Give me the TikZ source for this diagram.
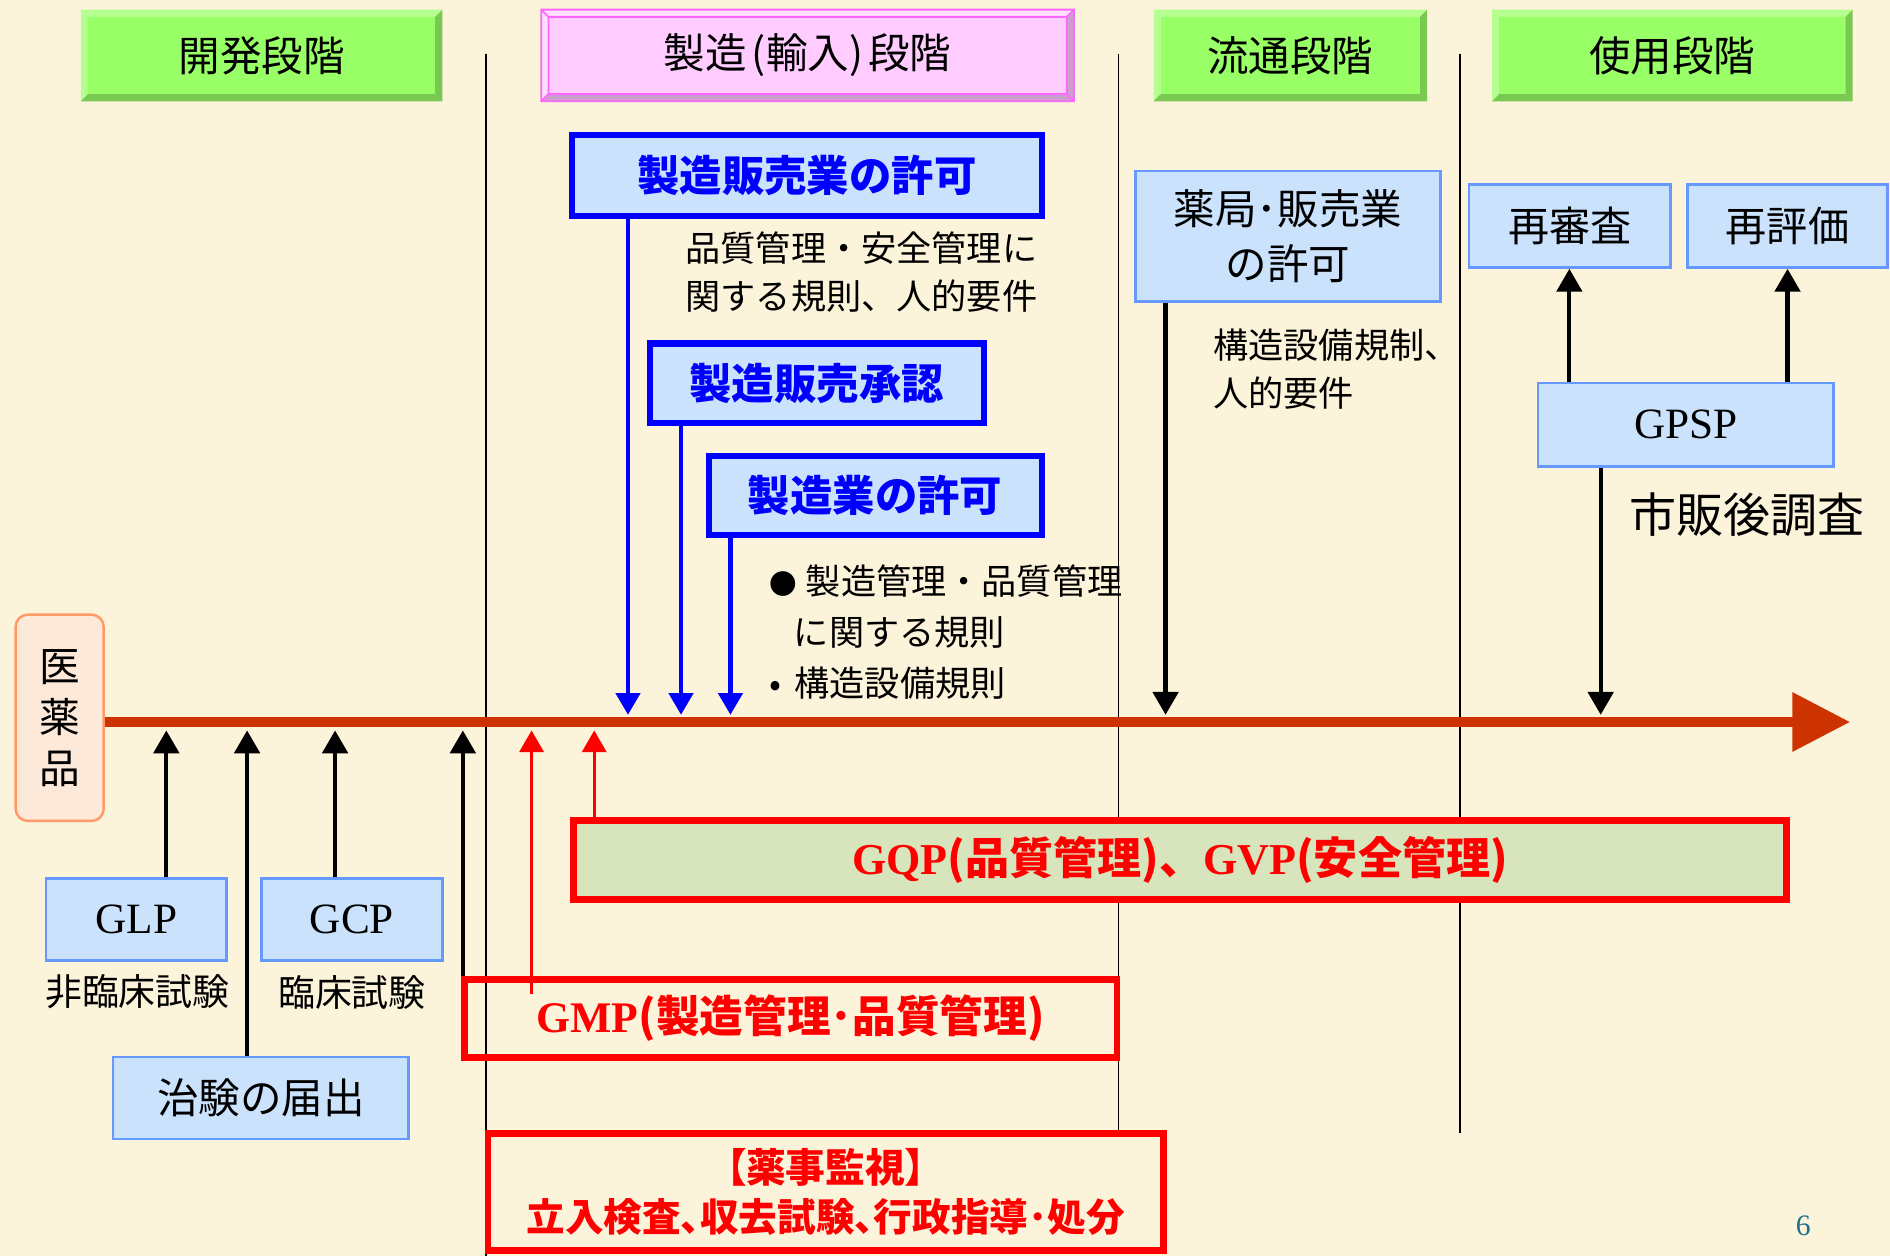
\documentclass[tikz,border=0pt]{standalone}
\usepackage{fontspec}
\setmainfont{Noto Sans CJK JP}
\newfontfamily\lsf{Liberation Serif}
\usetikzlibrary{calc,arrows.meta}
\definecolor{bgc}{RGB}{252,243,219}
\definecolor{lblue}{RGB}{202,226,252}
\definecolor{tborder}{RGB}{102,153,255}
\definecolor{blueB}{RGB}{0,0,255}
\definecolor{redR}{RGB}{255,0,0}
\definecolor{gqpfill}{RGB}{216,228,188}
\definecolor{barc}{RGB}{204,51,0}
\definecolor{medfill}{RGB}{253,233,217}
\definecolor{medline}{RGB}{255,153,102}
\definecolor{grfc}{RGB}{153,255,102}
\definecolor{grlt}{RGB}{181,255,145}
\definecolor{grdk}{RGB}{120,200,82}
\definecolor{pkfc}{RGB}{255,204,255}
\definecolor{pklt}{RGB}{255,226,255}
\definecolor{pkdk}{RGB}{204,158,204}
\definecolor{pkol}{RGB}{255,102,255}
\definecolor{pagec}{RGB}{31,110,140}
\newcommand\fz[2]{\fontsize{#1}{#2}\selectfont}
\newcommand\bevelbox[8]{%
  \fill[#6lt] (#2,#3) -- (#4,#3) -- ($(#4,#3)+(-6,6)$) -- ($(#2,#3)+(6,6)$) -- cycle;
  \fill[#6lt] (#2,#3) -- ($(#2,#3)+(6,6)$) -- ($(#2,#5)+(6,-6)$) -- (#2,#5) -- cycle;
  \fill[#6dk] (#2,#5) -- ($(#2,#5)+(6,-6)$) -- ($(#4,#5)+(-6,-6)$) -- (#4,#5) -- cycle;
  \fill[#6dk] (#4,#3) -- (#4,#5) -- ($(#4,#5)+(-6,-6)$) -- ($(#4,#3)+(-6,6)$) -- cycle;
  \fill[#6fc] ($(#2,#3)+(6,6)$) rectangle ($(#4,#5)+(-6,-6)$);
  \draw[#8] (#2,#3) rectangle (#4,#5) ($(#2,#3)+(6,6)$) rectangle ($(#4,#5)+(-6,-6)$)
     (#2,#3) -- ++(6,6) (#4,#5) -- ++(-6,-6) (#2,#5) -- ++(6,-6) (#4,#3) -- ++(-6,6);
  \node[hdr] (#1) at ($(#2,#3)!0.5!(#4,#5)$) {#7};
}
\begin{document}
\begin{tikzpicture}[x=0.01cm,y=-0.01cm,
  hdr/.style={font=\fz{9.8}{12}, text=black, inner sep=0},
  bbox/.style={draw=blueB, line width=0.05cm, fill=lblue, text=blueB, inner sep=0,
     font=\fz{10}{12}\bfseries},
  tbox/.style={draw=tborder, line width=0.02cm, fill=lblue, inner sep=0, align=center},
  rbox/.style={draw=redR, line width=0.055cm, inner sep=0, text=redR, align=center},
  note/.style={align=left, inner sep=0, anchor=west, font=\fz{8.3}{11.4}},
  lbl/.style={inner sep=0, font=\fz{8.7}{10}},
  barr/.style={blueB, line width=0.035cm, -{Triangle[length=0.18cm,width=0.2cm]}},
  karr/.style={black, line width=0.035cm, -{Triangle[length=0.19cm,width=0.21cm]}},
  rarr/.style={redR, line width=0.028cm, -{Triangle[length=0.18cm,width=0.2cm]}},
  sepl/.style={black, line width=0.015cm},
  mainbar/.style={barc, line width=0.09cm, -{Triangle[length=0.48cm,width=0.47cm]}}
]
\fill[bgc] (0,0) rectangle (1568,1042);
\useasboundingbox (0,0) rectangle (1568,1042);

% separator lines
\draw[sepl] (403,45) -- (403,1042);
\draw[sepl] (928,45) -- (928,938);
\draw[sepl] (1211,45) -- (1211,940);

% header boxes
\bevelbox{h1}{67}{8}{367}{84}{gr}{開発段階}{draw=none}
\bevelbox{h2}{449}{8}{891}{84}{pk}{製造\kern1.2pt(輸入)\kern1.2pt段階}{draw=pkol, line width=0.015cm}
\bevelbox{h3}{957}{8}{1184}{84}{gr}{流通段階}{draw=none}
\bevelbox{h4}{1238}{8}{1537}{84}{gr}{使用段階}{draw=none}

% blue boxes
\node[bbox, minimum width=3.89cm, minimum height=0.67cm] (n1) at (669.5,145.5) {製造販売業の許可};
\node[bbox, minimum width=2.77cm, minimum height=0.66cm] (n2) at (677.5,318) {製造販売承認};
\node[bbox, minimum width=2.76cm, minimum height=0.66cm] (n3) at (726,411) {製造業の許可};

% thin boxes
\node[tbox, minimum width=2.53cm, minimum height=1.08cm, font=\fz{9.8}{12.8}] (n4) at (1068.5,196) {薬局･販売業\\の許可};
\node[tbox, minimum width=1.67cm, minimum height=0.69cm, font=\fz{9.7}{12}] (n5) at (1302.5,187.5) {再審査};
\node[tbox, minimum width=1.66cm, minimum height=0.69cm, font=\fz{9.7}{12}] (n6) at (1483,187.5) {再評価};
\node[tbox, minimum width=2.45cm, minimum height=0.69cm, font=\lsf\fz{10.2}{12}] (n7) at (1398.5,352.5) {GPSP};
\node[tbox, minimum width=1.50cm, minimum height=0.68cm, font=\lsf\fz{10.2}{12}] (n8) at (113,763) {GLP};
\node[tbox, minimum width=1.50cm, minimum height=0.68cm, font=\lsf\fz{10.2}{12}] (n9) at (292,763) {GCP};
\node[tbox, minimum width=2.45cm, minimum height=0.68cm, font=\fz{9.8}{12}] (n10) at (216.5,911) {治験の届出};

% red boxes
\node[rbox, fill=gqpfill, line width=0.06cm, minimum width=10.06cm, minimum height=0.65cm,
  font=\fz{10.4}{12}\bfseries] (n11) at (979,713.5) {{\lsf GQP}(品質管理)、{\lsf GVP}(安全管理)};
\node[rbox, minimum width=5.41cm, minimum height=0.65cm,
  font=\fz{10.3}{12}\bfseries] (n12) at (656,845) {{\lsf GMP}(製造管理･品質管理)};
\node[rbox, minimum width=5.60cm, minimum height=0.97cm,
  font=\fz{9.1}{11.4}\bfseries\addfontfeatures{RawFeature=+palt}] (n13) at (685,989) {{\fz{9.4}{11.4}【薬事監視】}\\立入検査、収去試験、行政指導･処分};

% medicine box
\node[draw=medline, fill=medfill, line width=0.02cm, rounded corners=0.1cm, inner sep=0,
  minimum width=0.73cm, minimum height=1.71cm, align=center, font=\fz{9.6}{12}] (n14) at (49.5,595.5) {医\\薬\\品};

% free texts
\node[note] (t1) at (568,226) {品質管理・安全管理に\\関する規則、人的要件};
\node[note] (t2a) at (638,482) {{\fz{6.5}{8}●}\hspace{2pt}製造管理・品質管理};
\node[note] (t2b) at (658,525) {に関する規則};
\node[note] (t2c) at (638,567) {•\hspace{3pt}構造設備規則};
\node[note] (t3) at (1006,306) {構造設備規制、\\人的要件};
\node[inner sep=0, font=\fz{11.1}{13}] (t4) at (1449.5,427) {市販後調査};
\node[lbl] (t5) at (114,823) {非臨床試験};
\node[lbl] (t6) at (292,823) {臨床試験};
\node[inner sep=0, text=pagec, font=\lsf\fz{7}{8}] (pg) at (1496,1017) {6};

% main bar
\coordinate (bar0) at (86,599);
\coordinate (bartip) at (1535,599);
\draw[mainbar] (n14.east |- bar0) -- (bartip);

% blue arrows down
\coordinate (b1) at (521,593);
\coordinate (b2) at (565,593);
\coordinate (b3) at (606,593);
\draw[barr] (b1 |- n1.south) -- (b1);
\draw[barr] (b2 |- n2.south) -- (b2);
\draw[barr] (b3 |- n3.south) -- (b3);

% black arrows down
\coordinate (k1) at (967,593);
\coordinate (k2) at (1328,593);
\draw[karr] (k1 |- n4.south) -- (k1);
\draw[karr] (k2 |- n7.south) -- (k2);

% GPSP up arrows
\coordinate (g1) at (1302,0);
\coordinate (g2) at (1483,0);
\draw[karr] (g1 |- n7.north) -- (g1 |- n5.south);
\draw[karr] (g2 |- n7.north) -- (g2 |- n6.south);

% black arrows up
\coordinate (u1) at (138,606);
\coordinate (u2) at (205,606);
\coordinate (u3) at (278,606);
\coordinate (u4) at (384,606);
\draw[karr] (u1 |- n8.north) -- (u1);
\draw[karr] (u2 |- n10.north) -- (u2);
\draw[karr] (u3 |- n9.north) -- (u3);
\draw[karr] (u4 |- n12.north) -- (u4);

% red arrows up
\coordinate (r1s) at (441,825);
\coordinate (r1) at (441,606);
\coordinate (r2) at (493,606);
\draw[rarr] (r1s) -- (r1);
\draw[rarr] (r2 |- n11.north) -- (r2);
\end{tikzpicture}
\end{document}
